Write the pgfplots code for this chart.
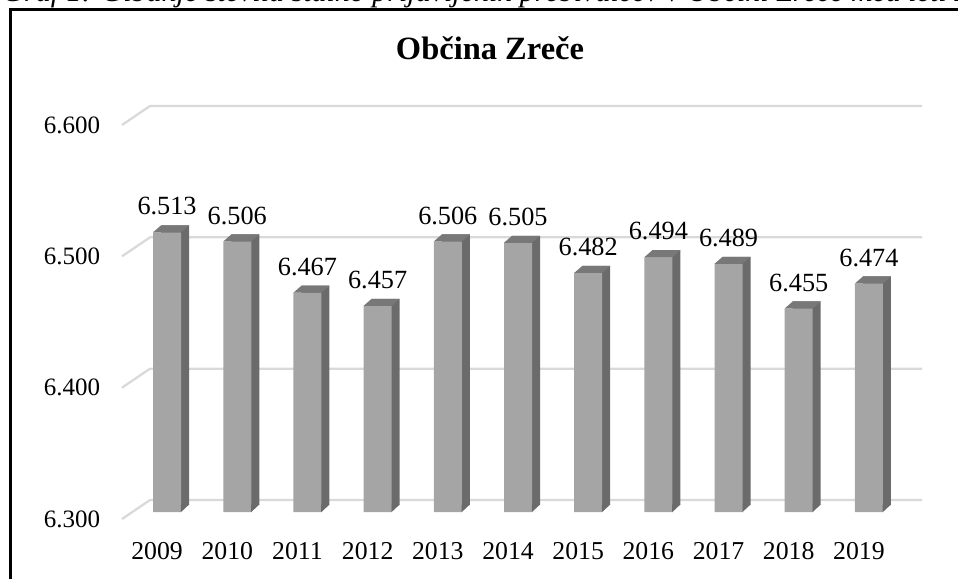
\documentclass[border=0pt]{standalone}
\usepackage{fontspec}
\setmainfont{Liberation Serif}
\usepackage{pgfplots}
\usepackage{pgfplotstable}
\pgfplotsset{compat=1.18}

% 1px = 0.4pt throughout
\definecolor{barfront}{HTML}{A5A5A5}
\definecolor{barside}{HTML}{6B6B6B}
\definecolor{bartop}{HTML}{787878}
\definecolor{gridgray}{HTML}{D9D9D9}

% top face of a bar, drawn at the value
\pgfdeclareplotmark{bartop}{%
  \pgfpathmoveto{\pgfpoint{-1.6pt}{2.8pt}}%
  \pgfpathlineto{\pgfpoint{1.6pt}{5.6pt}}%
  \pgfpathlineto{\pgfpoint{12.8pt}{5.6pt}}%
  \pgfpathlineto{\pgfpoint{9.6pt}{2.8pt}}%
  \pgfpathclose\pgfusepathqfill}
% lower corner of the side face
\pgfdeclareplotmark{barfoot}{%
  \pgfpathmoveto{\pgfpoint{9.5pt}{2.7pt}}%
  \pgfpathlineto{\pgfpoint{9.5pt}{5.8pt}}%
  \pgfpathlineto{\pgfpoint{12.8pt}{5.8pt}}%
  \pgfpathclose\pgfusepathqfill}

\pgfplotstableread{
i year pop
0 2009 6513
1 2010 6506
2 2011 6467
3 2012 6457
4 2013 6506
5 2014 6505
6 2015 6482
7 2016 6494
8 2017 6489
9 2018 6455
10 2019 6474
}\zrece

\begin{document}
\begin{tikzpicture}
\useasboundingbox (0,0) rectangle (383.2pt,231.2pt);
\clip (0,0) rectangle (383.2pt,231.2pt);
\node[anchor=base west, inner sep=0pt, font=\itshape\fontsize{12}{14}\selectfont] at (0.8pt,230.8pt)
  {Graf 1: Gibanje števila stalno prijavljenih prebivalcev v Občini Zreče med leti 2009 in 2019};
\draw[line width=1pt] (4.2pt,-2pt) |- (390pt,227.4pt);
\node[anchor=base, inner sep=0pt, font=\bfseries\fontsize{13}{15}\selectfont] at (196pt,207.6pt) {Občina Zreče};

\begin{axis}[
  at={(48.8pt,23.6pt)}, anchor=south west,
  scale only axis, width=308.8pt, height=157.6pt,
  xmin=-0.5, xmax=10.5, ymin=0, ymax=300,
  y filter/.expression={y-6300},
  clip=false,
  axis line style={draw=none}, tick style={draw=none},
  xtick={0,...,10},
  xticklabels={2009,2010,2011,2012,2013,2014,2015,2016,2017,2018,2019},
  ytick={0,100,200,300},
  yticklabels={6.300,6.400,6.500,6.600},
  tick label style={font=\fontsize{10}{12}\selectfont},
  xticklabel style={anchor=north, inner sep=0pt, yshift=-9pt, font=\fontsize{10.3}{12}\selectfont},
  yticklabel style={anchor=east, inner sep=0pt, xshift=-8.6pt},
]
\pgfplotsinvokeforeach{0,100,200,300}{
  \draw[gridgray, line width=0.9pt] (axis cs:-0.5,#1) -- ++(11.2pt,7.6pt) -- ++(308.8pt,0pt);
}
\addplot[ybar, bar width=11.2pt, bar shift=7.2pt, yshift=5.6pt, fill=barside, draw=none]
  table[x=i, y=pop]{\zrece};
\addplot[only marks, mark=barfoot, color=barside] table[x=i, y expr=6300]{\zrece};
\addplot[ybar, bar width=11.2pt, bar shift=4pt, yshift=2.8pt, fill=barfront, draw=none]
  table[x=i, y=pop]{\zrece};
\addplot[only marks, mark=bartop, color=bartop, point meta=rawy,
  nodes near coords,
  every node near coord/.append style={anchor=south, inner sep=0pt, xshift=4pt, yshift=9.4pt,
    text=black, font=\fontsize{10.5}{12}\selectfont},
  /pgf/number format/1000 sep={.},
  /pgf/number format/assume math mode=true]
  table[x=i, y=pop]{\zrece};
\end{axis}
\end{tikzpicture}
\end{document}
